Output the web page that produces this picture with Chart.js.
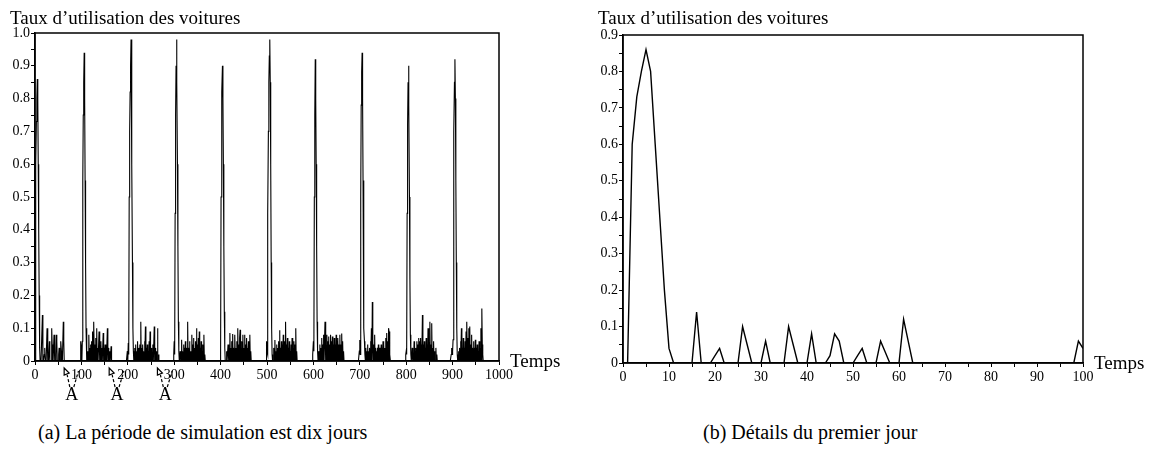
<!DOCTYPE html>
<html>
<head>
<meta charset="utf-8">
<script src="https://cdn.jsdelivr.net/npm/chart.js@4.4.1/dist/chart.umd.min.js"></script>
<style>
  body { margin: 0; background: #fff; width: 1157px; height: 458px; position: relative; overflow: hidden; }
  canvas { position: absolute; top: 0; }
  .legende { position: absolute; top: 421px; font: 20px "Liberation Serif", serif; color: #000; white-space: nowrap; }
</style>
</head>
<body>
<canvas id="grapheA" width="580" height="410" style="left:0;width:580px;height:410px"></canvas>
<canvas id="grapheB" width="577" height="410" style="left:580px;width:577px;height:410px"></canvas>
<div class="legende" style="left:38px">(a) La période de simulation est dix jours</div>
<div class="legende" style="left:703px">(b) Détails du premier jour</div>
<script>
// valeurs : [temps, taux] ; ailleurs le taux est nul
const jour0 = [[2,0.60],[3,0.73],[4,0.80],[5,0.86],[6,0.80],[7,0.60],[8,0.40],[9,0.20],[10,0.04],
  [16,0.14],[20,0.02],[21,0.04],[26,0.10],[27,0.05],[31,0.06],[36,0.10],[37,0.05],[41,0.08],
  [45,0.02],[46,0.08],[47,0.06],[51,0.02],[52,0.04],[56,0.06],[57,0.03],[61,0.12],[62,0.06],
  [99,0.06],[100,0.04]];
const jour1 = [[102,0.06],[103,0.55],[104,0.75],[105,0.85],[106,0.94],[107,0.80],[108,0.55],[109,0.30],[110,0.10],[111,0.02],
  [113,0.03],[116,0.08],[118,0.04],[120,0.05],[122,0.06],[124,0.09],[127,0.12],[129,0.05],[131,0.07],[133,0.10],
  [135,0.04],[138,0.09],[140,0.05],[142,0.06],[144,0.04],[147,0.085],[149,0.04],[151,0.05],[153,0.03],[156,0.10],
  [158,0.04],[161,0.03],[164,0.045],[199,0.03]];
const jour2 = [[201,0.055],[202,0.02],[203,0.50],[204,0.70],[205,0.82],[206,0.90],[207,0.98],[208,0.85],[209,0.60],[210,0.30],[211,0.10],[212,0.03],
  [215,0.04],[217,0.05],[219,0.03],[221,0.06],[224,0.04],[226,0.05],[228,0.12],[230,0.04],[232,0.05],[234,0.03],
  [236,0.06],[238,0.105],[240,0.04],[242,0.05],[244,0.03],[246,0.06],[248,0.09],[250,0.04],[252,0.03],[254,0.05],
  [257,0.105],[259,0.04],[261,0.03],[264,0.10],[266,0.02],[299,0.02]];
const jour3 = [[300,0.06],[301,0.02],[302,0.45],[303,0.75],[304,0.90],[305,0.98],[306,0.85],[307,0.60],[308,0.35],[309,0.12],[310,0.03],
  [313,0.03],[316,0.065],[318,0.03],[320,0.05],[322,0.04],[324,0.06],[326,0.04],[329,0.12],[331,0.04],[333,0.06],
  [335,0.03],[338,0.08],[340,0.05],[342,0.07],[344,0.04],[346,0.06],[348,0.10],[350,0.05],[352,0.07],[354,0.09],
  [356,0.04],[358,0.06],[360,0.03],[362,0.05],[364,0.08],[366,0.02]];
const jour4 = [[400,0.03],[401,0.50],[402,0.70],[403,0.82],[404,0.90],[405,0.80],[406,0.60],[407,0.35],[408,0.15],[409,0.04],
  [413,0.03],[416,0.05],[418,0.04],[420,0.085],[422,0.04],[424,0.06],[426,0.082],[428,0.04],[430,0.06],[431,0.08],
  [433,0.04],[435,0.06],[437,0.10],[439,0.05],[441,0.07],[442,0.095],[444,0.04],[446,0.06],[448,0.08],[450,0.04],
  [452,0.08],[454,0.05],[456,0.07],[458,0.04],[460,0.06],[463,0.08],[465,0.03],[499,0.06]];
const jour5 = [[500,0.03],[501,0.02],[502,0.45],[503,0.70],[504,0.85],[505,0.93],[506,0.98],[507,0.85],[508,0.60],[509,0.30],[510,0.10],[511,0.02],
  [515,0.04],[517,0.064],[519,0.03],[521,0.05],[523,0.04],[525,0.06],[527,0.094],[529,0.04],[531,0.06],[533,0.05],
  [535,0.08],[537,0.06],[540,0.12],[542,0.05],[544,0.07],[546,0.04],[548,0.06],[550,0.03],[552,0.05],[554,0.07],
  [556,0.04],[558,0.06],[560,0.05],[562,0.10],[564,0.03],[599,0.02]];
const jour6 = [[600,0.06],[601,0.03],[602,0.50],[603,0.75],[604,0.92],[605,0.80],[606,0.60],[607,0.35],[608,0.12],[609,0.03],
  [612,0.03],[614,0.05],[616,0.04],[618,0.07],[620,0.05],[622,0.08],[625,0.12],[627,0.05],[629,0.08],[631,0.06],
  [633,0.075],[635,0.05],[637,0.08],[639,0.06],[641,0.075],[643,0.05],[645,0.07],[647,0.05],[649,0.08],[651,0.06],
  [653,0.07],[655,0.05],[657,0.08],[659,0.05],[661,0.084],[663,0.06],[665,0.03],[699,0.03]];
const jour7 = [[700,0.064],[701,0.02],[702,0.50],[703,0.78],[704,0.88],[705,0.94],[706,0.80],[707,0.55],[708,0.30],[709,0.10],[710,0.06],[711,0.02],
  [713,0.04],[715,0.03],[717,0.05],[719,0.03],[721,0.04],[723,0.06],[725,0.10],[727,0.18],[728,0.06],[730,0.05],
  [732,0.08],[734,0.04],[736,0.03],[738,0.04],[740,0.05],[742,0.04],[744,0.04],[746,0.05],[748,0.04],[750,0.06],
  [752,0.05],[754,0.04],[756,0.07],[758,0.085],[760,0.06],[762,0.10],[763,0.09],[765,0.02],[799,0.02]];
const jour8 = [[800,0.03],[801,0.02],[802,0.45],[803,0.72],[804,0.85],[805,0.90],[806,0.78],[807,0.50],[808,0.25],[809,0.08],[810,0.02],
  [813,0.04],[815,0.02],[817,0.06],[819,0.03],[821,0.04],[823,0.06],[825,0.05],[827,0.07],[829,0.06],[831,0.07],
  [833,0.05],[835,0.14],[837,0.05],[839,0.06],[841,0.04],[843,0.07],[845,0.05],[847,0.10],[849,0.06],[851,0.12],
  [853,0.05],[855,0.115],[857,0.04],[859,0.06],[861,0.03],[864,0.04],[866,0.02],[897,0.02],[898,0.04],[899,0.02]];
const jour9 = [[900,0.03],[901,0.065],[902,0.50],[903,0.70],[904,0.85],[905,0.92],[906,0.80],[907,0.55],[908,0.30],[909,0.10],[910,0.02],
  [913,0.03],[915,0.04],[917,0.06],[919,0.10],[921,0.04],[923,0.07],[925,0.04],[927,0.06],[929,0.09],[931,0.12],
  [933,0.07],[935,0.10],[937,0.105],[939,0.05],[941,0.08],[943,0.04],[945,0.06],[947,0.04],[949,0.065],[951,0.04],
  [953,0.05],[955,0.03],[957,0.06],[959,0.04],[961,0.10],[963,0.16],[964,0.05],[965,0.02]];

// périodes d'inactivité marquées "A" : [fin d'activité, reprise]
const marquesA = [[65, 98], [162, 196], [266, 300]];

const titreY = "Taux d\u2019utilisation des voitures";
const titreX = "Temps";
const police = '"Liberation Serif", "Times New Roman", serif';

function serie(jours, fin) {
  const m = {};
  jours.forEach(j => j.forEach(p => { m[p[0]] = p[1]; }));
  const pts = [];
  for (let t = 0; t <= fin; t++) pts.push({ x: t, y: m[t] !== undefined ? m[t] : 0 });
  return pts;
}

const donneesA = serie([jour0, jour1, jour2, jour3, jour4, jour5, jour6, jour7, jour8, jour9], 1000);
const donneesB = serie([jour0], 100);

// cadre, titre de l'axe y, "Temps", et les annotations A
const habillage = {
  id: 'habillage',
  afterDraw(chart, args, opts) {
    const c = chart.ctx, a = chart.chartArea;
    c.save();
    c.strokeStyle = '#000';
    c.lineWidth = 1.5;
    c.strokeRect(a.left, a.top, a.right - a.left, a.bottom - a.top);
    c.fillStyle = '#000';
    c.font = '19px ' + police;
    c.textBaseline = 'alphabetic';
    c.fillText(titreY, opts.titreX, 24);
    c.fillText(titreX, a.right + 11, a.bottom + 6);
    if (opts.marques) {
      const sx = chart.scales.x;
      c.lineWidth = 1.2;
      opts.marques.forEach(mk => {
        const x1 = sx.getPixelForValue(mk[0]);
        const x2 = sx.getPixelForValue(mk[1]);
        const xa = (x1 + x2) / 2 - 2;
        const ya = a.bottom + 27;
        c.setLineDash([3, 2]);
        c.beginPath();
        c.moveTo(xa - 1, ya - 1);
        c.lineTo(x1 + 2, a.bottom + 14);
        c.moveTo(xa + 3, ya - 1);
        c.lineTo(x2 - 2, a.bottom + 10);
        c.stroke();
        c.setLineDash([]);
        // pointe de flèche ouverte
        c.beginPath();
        c.moveTo(x1 - 1, a.bottom + 7);
        c.lineTo(x1 - 1, a.bottom + 14);
        c.lineTo(x1 + 4, a.bottom + 12);
        c.closePath();
        c.stroke();
        c.font = '18px ' + police;
        c.textAlign = 'center';
        c.fillText('A', xa + 1, ya + 12);
        c.textAlign = 'left';
      });
    }
    c.restore();
  }
};

function options(ymax, xmax, pasX, pasXLabel, largeurY, pad, titreXpos, marques) {
  const etiq = { family: '"Liberation Serif", "Times New Roman", serif', size: 14 };
  return {
    responsive: false,
    animation: false,
    layout: { padding: pad },
    plugins: {
      legend: { display: false },
      tooltip: { enabled: false },
      habillage: { titreX: titreXpos, marques: marques }
    },
    scales: {
      x: {
        type: 'linear', min: 0, max: xmax,
        afterFit: s => { s.height = 30; },
        border: { display: true, color: '#000', width: 1.5 },
        grid: { drawOnChartArea: false, drawTicks: true, tickLength: 4, color: '#000' },
        ticks: {
          stepSize: pasX, autoSkip: false, maxRotation: 0, padding: 2, color: '#000', font: etiq,
          callback: v => (Math.round(v) % pasXLabel === 0 ? String(Math.round(v)) : '')
        }
      },
      y: {
        type: 'linear', min: 0, max: ymax,
        afterFit: s => { s.width = largeurY; },
        border: { display: true, color: '#000', width: 1.5 },
        grid: { drawOnChartArea: false, drawTicks: true, tickLength: 4, color: '#000' },
        ticks: {
          stepSize: 0.05, autoSkip: false, padding: 1, color: '#000', font: etiq,
          callback: v => {
            const k = Math.round(v * 100);
            if (k % 10 !== 0) return '';
            return k === 0 ? '0' : (k / 100).toFixed(1);
          }
        }
      }
    }
  };
}

const ligne = { borderColor: '#000', borderWidth: 1.1, pointRadius: 0, tension: 0, fill: false };

new Chart(document.getElementById('grapheA'), {
  type: 'line',
  data: { datasets: [Object.assign({ data: donneesA }, ligne)] },
  options: options(1.0, 1000, 50, 100, 35, { left: 0, right: 81, top: 33, bottom: 19 }, 10, marquesA),
  plugins: [habillage]
});

new Chart(document.getElementById('grapheB'), {
  type: 'line',
  data: { datasets: [Object.assign({ data: donneesB }, ligne, { borderWidth: 1.4 })] },
  options: options(0.9, 100, 5, 10, 43, { left: 0, right: 74, top: 35, bottom: 17 }, 18, null),
  plugins: [habillage]
});
</script>
</body>
</html>
